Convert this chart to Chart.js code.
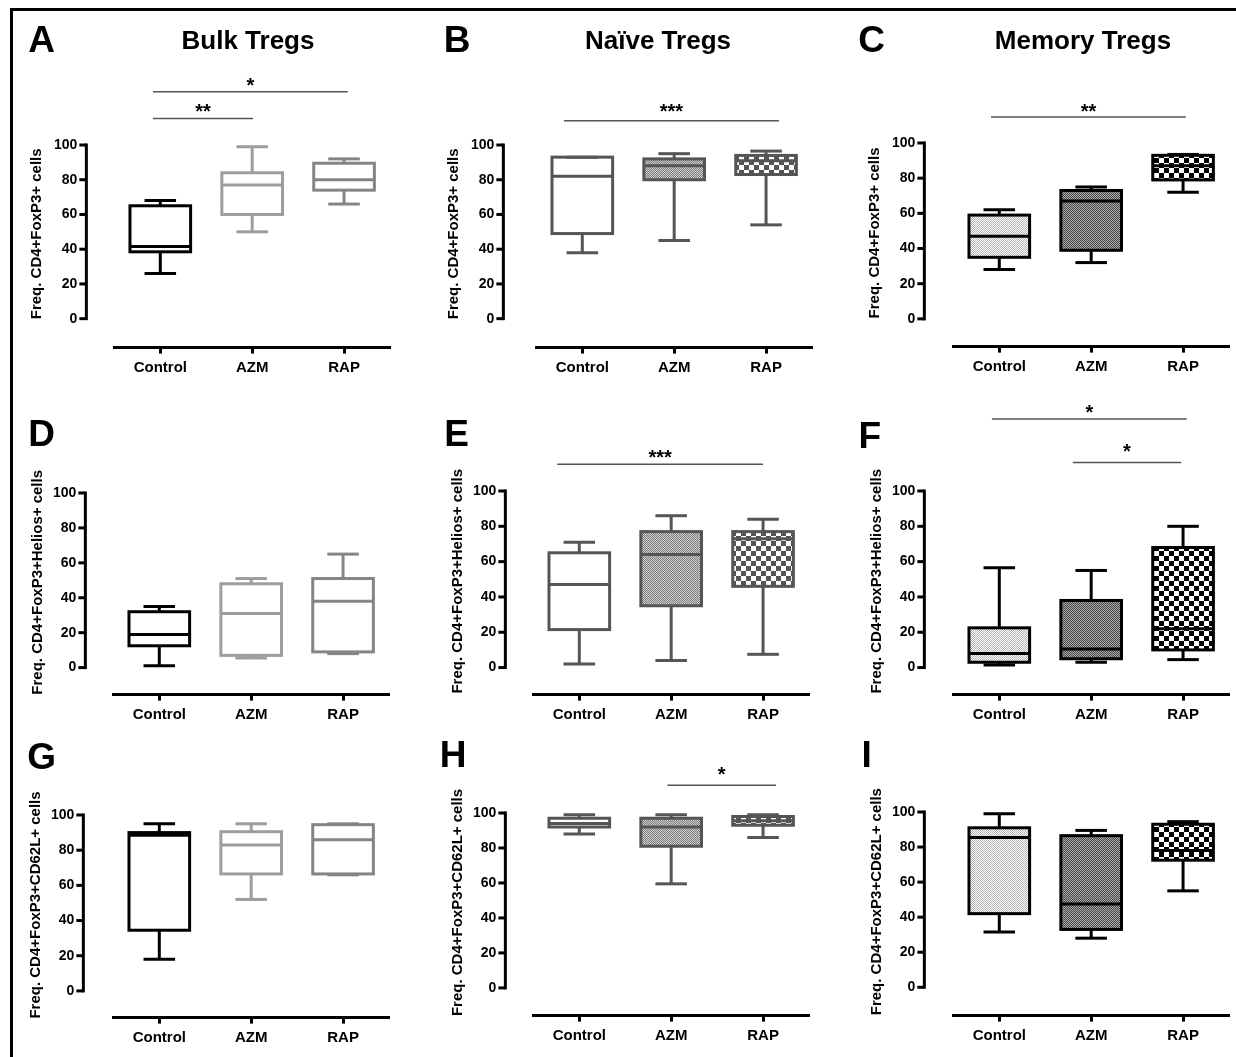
<!DOCTYPE html>
<html><head><meta charset="utf-8">
<script src="https://cdn.jsdelivr.net/npm/chart.js@4.4.1/dist/chart.umd.min.js"></script>
<style>
html,body{margin:0;padding:0;background:#fff;}
#fig{position:relative;width:1236px;height:1057px;overflow:hidden;font-family:"Liberation Sans",Arial,sans-serif;}
.frame{position:absolute;left:10px;top:8px;width:1400px;height:1200px;border-top:3px solid #000;border-left:3px solid #000;}
.lbl{position:absolute;font-weight:bold;line-height:1;transform:translate(-50%,-50%);white-space:nowrap;color:#000;}
.letter{font-size:37px;}
.title{font-size:26px;}
canvas{position:absolute;}
</style></head><body><div id="fig"><div class="frame"></div></div>
<script>
const FONT = '"Liberation Sans", Arial, sans-serif';
const categories = ['Control', 'AZM', 'RAP'];
const yTicks = [0, 20, 40, 60, 80, 100];
const columnTitles = ['Bulk Tregs', 'Naïve Tregs', 'Memory Tregs'];
const panelLetters = ['A','B','C','D','E','F','G','H','I'];
const yTitleFoxp3 = 'Freq. CD4+FoxP3+ cells';
const yTitleHelios = 'Freq. CD4+FoxP3+Helios+ cells';
const yTitleCd62l = 'Freq. CD4+FoxP3+CD62L+ cells';

// box statistics per group: [min, q1, median, q3, max]
const bulkFoxp3   = [[26, 38.5, 41.5, 65, 68], [50, 60, 77, 84, 99], [66, 74, 80, 89.5, 92]];
const naiveFoxp3  = [[38, 49, 82, 93, 93], [45, 80, 88, 92, 95], [54, 83, 91, 94, 96.5]];
const memFoxp3    = [[28, 35, 47, 59, 62], [32, 39, 67, 73, 75], [72, 79, 87, 93, 93.5]];
const bulkHelios  = [[1, 12.5, 19, 32, 35], [5.5, 7, 31, 48, 51], [8, 9, 38, 51, 65]];
const naiveHelios = [[2, 21.5, 47, 65, 71], [4, 35, 64, 77, 86], [7.5, 46, 73, 77, 84]];
const memHelios   = [[1.5, 3, 8, 22.5, 56.5], [3, 5, 10.5, 38, 55], [4.5, 10, 22, 68, 80]];
const bulkCd62l   = [[18, 34.5, 88.5, 90, 95], [52, 66.5, 83, 90.5, 95], [66, 66.5, 86, 94.5, 95]];
const naiveCd62l  = [[88, 92, 94, 97, 99], [59.5, 81, 92, 97, 99], [86, 93, 95.5, 98, 99]];
const memCd62l    = [[31.5, 42, 85.5, 91, 99], [28, 33, 47.5, 86.5, 89.5], [55, 72.5, 78, 93, 94.5]];

// significance bars: from/to in category index units, line and label heights in value units
const sigBulkFoxp3  = [{from:-0.08, to:2.04, line:130.6, text:137, label:'*'}, {from:-0.08, to:1.01, line:115.3, text:121.7, label:'**'}];
const sigNaiveFoxp3 = [{from:-0.2, to:2.14, line:114, text:121.7, label:'***'}];
const sigMemFoxp3   = [{from:-0.09, to:2.03, line:114.8, text:120.5, label:'**'}];
const sigNaiveHelios= [{from:-0.24, to:2.0, line:115.1, text:121.7, label:'***'}];
const sigMemHelios  = [{from:-0.08, to:2.04, line:140.8, text:146.9, label:'*'}, {from:0.8, to:1.98, line:116.1, text:125.1, label:'*'}];
const sigNaiveCd62l = [{from:0.96, to:2.14, line:115.8, text:124.3, label:'*'}];

function makePattern(kind) {
  const c = document.createElement('canvas');
  const ctx = c.getContext('2d');
  const px = (x, y, col, s) => { ctx.fillStyle = col; ctx.fillRect(x, y, s, s); };
  if (kind === 'dotLight' || kind === 'dotDark' || kind === 'dotMid') {
    c.width = 2; c.height = 2;
    const [a, b] = kind === 'dotLight' ? ['#ffffff', '#b4b4b4'] : kind === 'dotMid' ? ['#7a7a7a', '#d2d2d2'] : ['#4a4a4a', '#a8a8a8'];
    px(0,0,a,1); px(1,1,a,1); px(1,0,b,1); px(0,1,b,1);
  } else {
    c.width = 10; c.height = 10;
    const dark = kind === 'checkGray' ? '#555555' : '#000000';
    px(0,0,dark,5); px(5,5,dark,5); px(5,0,'#ffffff',5); px(0,5,'#ffffff',5);
  }
  return ctx.createPattern(c, 'repeat');
}

const columnStyles = [
  {stroke:['#000000', '#9d9d9d', '#858585'], fill:['#ffffff', '#ffffff', '#ffffff']},
  {stroke:['#555555', '#555555', '#555555'], fill:['#ffffff', makePattern('dotMid'), makePattern('checkGray')]},
  {stroke:['#000000', '#000000', '#000000'], fill:[makePattern('dotLight'), makePattern('dotDark'), makePattern('checkBlack')]}
];

const panels = [
  {stats:bulkFoxp3,  sig:sigBulkFoxp3,  col:0, yTitle:yTitleFoxp3,  g:{yAxisX:86,  left:114, right:390,  y100:145,   y0:319,   bottom:348,   tOff:49}},
  {stats:naiveFoxp3, sig:sigNaiveFoxp3, col:1, yTitle:yTitleFoxp3,  g:{yAxisX:503, left:536, right:812,  y100:145,   y0:319,   bottom:348,   tOff:49}},
  {stats:memFoxp3,   sig:sigMemFoxp3,   col:2, yTitle:yTitleFoxp3,  g:{yAxisX:924, left:953, right:1229, y100:142.7, y0:318.3, bottom:346,   tOff:49}},
  {stats:bulkHelios, sig:[],            col:0, yTitle:yTitleHelios, g:{yAxisX:85,  left:113, right:389,  y100:492.7, y0:667.3, bottom:694.3, tOff:47.5}},
  {stats:naiveHelios,sig:sigNaiveHelios,col:1, yTitle:yTitleHelios, g:{yAxisX:505, left:533, right:809,  y100:491,   y0:667.3, bottom:694.3, tOff:47.5}},
  {stats:memHelios,  sig:sigMemHelios,  col:2, yTitle:yTitleHelios, g:{yAxisX:924, left:953, right:1229, y100:491,   y0:667.3, bottom:694.3, tOff:47.5}},
  {stats:bulkCd62l,  sig:[],            col:0, yTitle:yTitleCd62l,  g:{yAxisX:83,  left:113, right:389,  y100:815,   y0:991,   bottom:1017.7,tOff:47}},
  {stats:naiveCd62l, sig:sigNaiveCd62l, col:1, yTitle:yTitleCd62l,  g:{yAxisX:505, left:533, right:809,  y100:813.3, y0:988.3, bottom:1016,  tOff:47}},
  {stats:memCd62l,   sig:[],            col:2, yTitle:yTitleCd62l,  g:{yAxisX:924, left:953, right:1229, y100:811.7, y0:986.7, bottom:1015,  tOff:47}}
];

const fig = document.getElementById('fig');

function makePlugin(p) {
  const st = columnStyles[p.col];
  return {
    id: 'boxes',
    afterDatasetsDraw(chart) {
      const ctx = chart.ctx, y = chart.scales.y;
      const py = v => y.getPixelForValue(v);
      const meta = chart.getDatasetMeta(0);
      ctx.save();
      ctx.lineWidth = 3; ctx.lineCap = 'butt';
      const seg = (x1, y1, x2, y2) => { ctx.beginPath(); ctx.moveTo(x1, y1); ctx.lineTo(x2, y2); ctx.stroke(); };
      meta.data.forEach((bar, i) => {
        const s = p.stats[i];
        const half = bar.width / 2, cx = bar.x;
        ctx.strokeStyle = st.stroke[i];
        ctx.lineJoin = 'miter';
        ctx.strokeRect(cx - half, py(s[3]), 2 * half, py(s[1]) - py(s[3]));
        seg(cx - half, py(s[2]), cx + half, py(s[2]));
        seg(cx, py(s[3]), cx, py(s[4]));
        seg(cx, py(s[1]), cx, py(s[0]));
        const cw = half * 0.52;
        seg(cx - cw, py(s[4]), cx + cw, py(s[4]));
        seg(cx - cw, py(s[0]), cx + cw, py(s[0]));
      });
      ctx.restore();
    },
    afterDraw(chart) {
      const ctx = chart.ctx, x = chart.scales.x, y = chart.scales.y, ca = chart.chartArea;
      const py = v => y.getPixelForValue(v);
      const g = p.g;
      const ax = ca.left - (g.left - g.yAxisX);
      ctx.save();
      ctx.strokeStyle = '#000'; ctx.lineWidth = 3; ctx.lineCap = 'square';
      ctx.beginPath(); ctx.moveTo(ax, py(0)); ctx.lineTo(ax, py(100)); ctx.stroke();
      ctx.lineCap = 'butt';
      yTicks.forEach(v => { ctx.beginPath(); ctx.moveTo(ax - 7, py(v)); ctx.lineTo(ax, py(v)); ctx.stroke(); });
      ctx.save();
      ctx.translate(ax - g.tOff, py(50) + 2);
      ctx.rotate(-Math.PI / 2);
      ctx.fillStyle = '#000'; ctx.font = 'bold 15px ' + FONT;
      ctx.textAlign = 'center'; ctx.textBaseline = 'middle';
      ctx.fillText(p.yTitle, 0, 0);
      ctx.restore();
      const c0 = x.getPixelForValue(0), step = x.getPixelForValue(1) - c0;
      p.sig.forEach(s => {
        const x1 = c0 + s.from * step, x2 = c0 + s.to * step;
        ctx.strokeStyle = '#555'; ctx.lineWidth = 1.5;
        ctx.beginPath(); ctx.moveTo(x1, py(s.line)); ctx.lineTo(x2, py(s.line)); ctx.stroke();
        ctx.fillStyle = '#000'; ctx.font = 'bold 20px ' + FONT;
        ctx.textAlign = 'center'; ctx.textBaseline = 'alphabetic';
        ctx.fillText(s.label, (x1 + x2) / 2, py(s.text) + 11);
      });
      ctx.restore();
    }
  };
}

function build(p) {
  const cv = document.createElement('canvas');
  fig.appendChild(cv);
  cv.width = 420; cv.height = 400;
  cv.style.width = '420px'; cv.style.height = '400px';
  const g = p.g, st = columnStyles[p.col];
  const ymin = -(g.bottom - g.y0) / (g.y0 - g.y100) * 100;
  const chart = new Chart(cv, {
    type: 'bar',
    data: {labels: categories, datasets: [{
      data: p.stats.map(s => [s[1], s[3]]),
      backgroundColor: st.fill, borderWidth: 0,
      barPercentage: 0.66, categoryPercentage: 1
    }]},
    options: {
      responsive: false, maintainAspectRatio: false, animation: false, events: [],
      layout: {padding: {top: 110, left: 75, right: 12, bottom: 8}},
      plugins: {legend: {display: false}, tooltip: {enabled: false}},
      scales: {
        x: {
          offset: true,
          grid: {display: true, drawOnChartArea: false, drawTicks: true, tickLength: 6, tickWidth: 3, tickColor: '#000', offset: false},
          border: {display: true, color: '#000', width: 3},
          ticks: {font: {family: FONT, weight: 'bold', size: 15}, color: '#000', padding: 5, maxRotation: 0, autoSkip: false}
        },
        y: {
          min: ymin, max: 100,
          afterBuildTicks: s => { s.ticks = yTicks.map(v => ({value: v})); },
          grid: {display: false, drawTicks: false},
          border: {display: false},
          ticks: {font: {family: FONT, weight: 'bold', size: 14}, color: '#000', padding: g.left - g.yAxisX + 9}
        }
      }
    },
    plugins: [makePlugin(p)]
  });
  let ca = chart.chartArea;
  const W = Math.round(ca.left + (g.right - g.left) + (chart.width - ca.right));
  const H = Math.round(ca.top + (g.bottom - g.y100) + (chart.height - ca.bottom));
  chart.resize(W, H);
  ca = chart.chartArea;
  cv.style.left = (g.left - ca.left) + 'px';
  cv.style.top = (g.y100 - ca.top) + 'px';
}

panels.forEach(build);

function addLabel(text, cls, x, y) {
  const d = document.createElement('div');
  d.className = 'lbl ' + cls; d.textContent = text;
  d.style.left = x + 'px'; d.style.top = y + 'px';
  fig.appendChild(d);
}
const letterPos = [[41.5,39],[457,39],[871.7,39],[41.5,432.5],[456.7,433],[869.7,434.5],[41.7,756],[453,754],[866.7,754]];
panelLetters.forEach((l, i) => addLabel(l, 'letter', letterPos[i][0], letterPos[i][1]));
const titlePos = [[248,40],[658,40],[1083,40]];
columnTitles.forEach((t, i) => addLabel(t, 'title', titlePos[i][0], titlePos[i][1]));
</script></body></html>
